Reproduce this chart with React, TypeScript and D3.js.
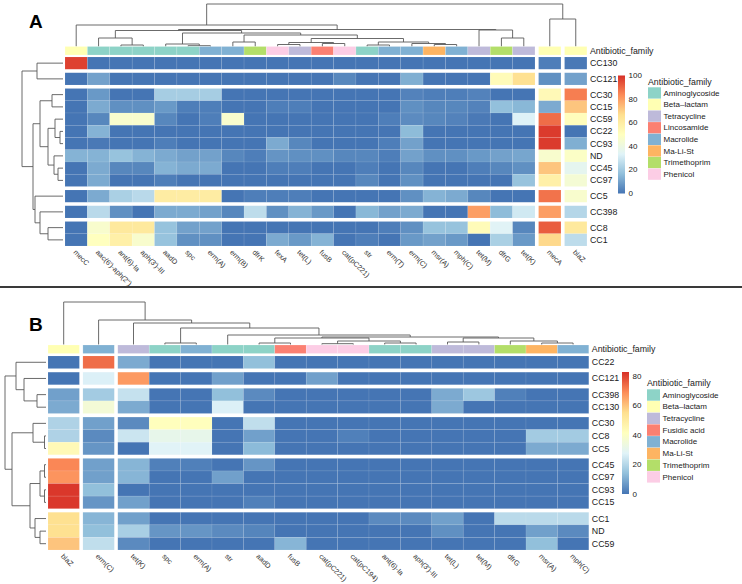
import React from 'react';
import * as d3 from 'd3';

// ---------------- Shared ----------------
const RAMP = ['#4575B4', '#91BFDB', '#E0F3F8', '#FFFFBF', '#FEE090', '#FC8D59', '#D73027'];
const FAMILY_COLORS: Record<string, string> = {
  Aminoglycoside: '#8DD3C7',
  'Beta-lactam': '#FFFFB3',
  Tetracycline: '#BEBADA',
  Lincosamide: '#FB8072',
  'Fusidic acid': '#FB8072',
  Macrolide: '#80B1D3',
  'Ma-Li-St': '#FDB462',
  Trimethoprim: '#B3DE69',
  Phenicol: '#FCCDE5',
};

// ---------------- Panel A data ----------------
const colsA = ["mecC", "aac(6')-aph(2'')", "ant(6)-Ia", "aph(3')-III", "aadD", "spc", "erm(A)", "erm(B)", "dfrK", "fexA", "tet(L)", "fusB", "cat(pC221)", "str", "erm(T)", "erm(C)", "msr(A)", "mph(C)", "tet(M)", "dfrG", "tet(K)", "mecA", "blaZ"];
const familyA = ['Beta-lactam', 'Aminoglycoside', 'Aminoglycoside', 'Aminoglycoside', 'Aminoglycoside', 'Aminoglycoside', 'Macrolide', 'Macrolide', 'Trimethoprim', 'Phenicol', 'Tetracycline', 'Lincosamide', 'Phenicol', 'Aminoglycoside', 'Macrolide', 'Macrolide', 'Ma-Li-St', 'Macrolide', 'Tetracycline', 'Trimethoprim', 'Tetracycline', 'Beta-lactam', 'Beta-lactam'];
const rowsA = ['CC130', 'CC121', 'CC30', 'CC15', 'CC59', 'CC22', 'CC93', 'ND', 'CC45', 'CC97', 'CC5', 'CC398', 'CC8', 'CC1'];
const valuesA = [
  [97, 0, 0, 0, 0, 0, 0, 0, 0, 0, 0, 0, 0, 0, 0, 0, 0, 0, 0, 0, 0, 2, 1],
  [0, 10, 0, 0, 0, 0, 0, 0, 0, 0, 0, 0, 4, 0, 0, 13, 0, 0, 0, 52, 66, 6, 10],
  [0, 8, 0, 0, 21, 21, 21, 0, 0, 0, 0, 0, 0, 0, 0, 3, 2, 2, 3, 0, 0, 53, 86],
  [0, 12, 6, 6, 8, 2, 2, 0, 0, 2, 2, 0, 0, 0, 0, 6, 4, 4, 3, 17, 15, 12, 72],
  [0, 4, 46, 46, 4, 0, 2, 46, 0, 0, 0, 0, 0, 0, 2, 5, 4, 3, 1, 0, 33, 89, 51],
  [0, 14, 0, 0, 0, 0, 0, 0, 0, 0, 0, 0, 0, 0, 0, 16, 0, 0, 0, 0, 0, 98, 0],
  [0, 1, 0, 0, 2, 0, 0, 0, 0, 12, 4, 0, 0, 0, 2, 10, 0, 0, 0, 0, 0, 98, 13],
  [14, 14, 18, 14, 12, 10, 10, 4, 2, 7, 6, 6, 4, 4, 2, 10, 6, 6, 8, 10, 11, 46, 48],
  [0, 12, 4, 4, 14, 12, 12, 0, 0, 2, 2, 0, 0, 2, 0, 4, 0, 0, 2, 4, 6, 72, 36],
  [0, 12, 0, 0, 2, 0, 0, 0, 0, 0, 0, 0, 0, 4, 0, 6, 0, 0, 0, 0, 18, 58, 44],
  [0, 12, 22, 25, 60, 60, 60, 0, 2, 2, 2, 0, 0, 0, 0, 6, 14, 12, 4, 0, 0, 88, 46],
  [0, 25, 6, 0, 12, 12, 10, 4, 26, 6, 14, 8, 0, 15, 10, 12, 0, 0, 80, 16, 30, 80, 24],
  [0, 46, 62, 62, 18, 10, 10, 0, 0, 0, 0, 0, 0, 0, 2, 6, 18, 18, 52, 34, 4, 92, 62],
  [0, 50, 58, 46, 18, 6, 6, 0, 0, 12, 8, 14, 0, 2, 0, 8, 10, 8, 0, 22, 8, 68, 26],
];
const legendFamA = ['Aminoglycoside', 'Beta-lactam', 'Tetracycline', 'Lincosamide', 'Macrolide', 'Ma-Li-St', 'Trimethoprim', 'Phenicol'];
const ticksA = [0, 20, 40, 60, 80, 100];
const maxA = 100;
// dendrograms: [left, right, merge height]
const rowTreeA = [[0, 1, 26], [[[2, 3, 11], [[4, [5, 6, 3], 8], [7, [8, 9, 5], 9], 15], 23], [10, [11, [12, 13, 15], 23], 28], 30], 41];
const colTreeA = [
  [0, [[[1, [2, 3, 1.5], 8.5], [[4, [5, 6, 0.8], 2.5], [[7, 8, 4.5], [[[9, 10, 2], [11, 12, 3], 4], [[13, 14, 1.5], [15, [16, 17, 2], 3], 4.5], 8], 11.5], 13.5], 16], [18, [19, 20, 8.5], 16.5], 17], 21.5],
  [21, 22, 27.5],
  42.5,
];

// ---------------- Panel B data ----------------
const colsB = ['blaZ', 'erm(C)', 'tet(K)', 'spc', 'erm(A)', 'str', 'aadD', 'fusB', 'cat(pC221)', 'cat(pC194)', 'ant(6)-Ia', "aph(3')-III", 'tet(L)', 'tet(M)', 'dfrG', 'msr(A)', 'mph(C)'];
const familyB = ['Beta-lactam', 'Macrolide', 'Tetracycline', 'Aminoglycoside', 'Macrolide', 'Aminoglycoside', 'Aminoglycoside', 'Fusidic acid', 'Phenicol', 'Phenicol', 'Aminoglycoside', 'Aminoglycoside', 'Tetracycline', 'Tetracycline', 'Trimethoprim', 'Ma-Li-St', 'Macrolide'];
const rowsB = ['CC22', 'CC121', 'CC398', 'CC130', 'CC30', 'CC8', 'CC5', 'CC45', 'CC97', 'CC93', 'CC15', 'CC1', 'ND', 'CC59'];
const valuesB = [
  [0, 74, 10, 0, 0, 0, 14, 0, 0, 0, 0, 0, 0, 0, 0, 0, 0],
  [0, 27, 67, 0, 0, 8, 0, 0, 8, 0, 0, 0, 0, 0, 0, 0, 0],
  [8, 17, 23, 0, 0, 14, 4, 0, 0, 0, 0, 0, 10, 16, 2, 0, 0],
  [10, 36, 10, 0, 0, 27, 0, 0, 0, 0, 0, 0, 10, 0, 0, 0, 0],
  [19, 8, 4, 42, 42, 0, 22, 0, 0, 0, 0, 0, 0, 0, 0, 0, 0],
  [19, 4, 24, 31, 31, 0, 8, 0, 0, 2, 0, 0, 0, 0, 0, 17, 17],
  [44, 6, 0, 28, 28, 0, 13, 0, 0, 0, 0, 0, 0, 0, 0, 10, 10],
  [70, 8, 12, 2, 2, 0, 6, 0, 0, 0, 0, 0, 0, 0, 0, 0, 0],
  [68, 8, 12, 0, 0, 8, 0, 0, 0, 0, 0, 0, 0, 0, 0, 0, 0],
  [82, 14, 0, 0, 0, 0, 0, 0, 0, 0, 0, 0, 0, 0, 0, 0, 0],
  [82, 6, 8, 0, 0, 0, 2, 0, 0, 0, 0, 0, 0, 0, 0, 0, 0],
  [55, 12, 8, 0, 0, 0, 0, 0, 0, 0, 4, 4, 8, 0, 21, 21, 21],
  [55, 14, 18, 6, 6, 4, 3, 0, 0, 0, 0, 0, 5, 0, 0, 8, 4],
  [60, 22, 4, 0, 0, 0, 0, 12, 0, 0, 0, 0, 0, 0, 0, 14, 0],
];
const legendFamB = ['Aminoglycoside', 'Beta-lactam', 'Tetracycline', 'Fusidic acid', 'Macrolide', 'Ma-Li-St', 'Trimethoprim', 'Phenicol'];
const ticksB = [0, 20, 40, 60, 80];
const maxB = 83;
const rowTreeB = [[0, [1, [2, 3, 9], 22], 30], [[4, [5, 6, 1.5], 13], [[[7, 8, 1.5], [9, 10, 1.5], 6], [11, [12, 13, 6], 11], 16], 34], 41];
const colTreeB = [0, [1, [2, [[3, 4, 1.5], [5, [[[6, 7, 1.5], [[8, 9, 0.8], [10, 11, 1.5], 3.5], 6.5], [[12, 13, 2.5], [14, [15, 16, 1.5], 3.5], 6.5], 7.5], 9.5], 16.5], 21.5], 24.5], 42.5];

// ---------------- Layouts ----------------
const layoutA = {
  label: 'A', labelX: 29, labelY: 28,
  x0: 65, cw: 22.38, colGap: 3.6, colGapsAfter: [20, 21],
  y0: 57, rh: 12.25, rowGap: 3.5, rowGapsAfter: [0, 1, 9, 10, 11],
  annY: 46.5, annH: 8.5,
  colDendTop: 4, colDendBase: 46.5, colDendMax: 42.5,
  rowDendLeft: 22, rowDendBase: 63, rowDendMax: 41,
  cbX: 618, cbW: 7, cbTop: 75.5, cbBottom: 193.5, cbLabelX: 628.5,
  legX: 648, legTitleY: 82, legTop: 87.3, legStep: 11.6,
};
const layoutB = {
  label: 'B', labelX: 29, labelY: 331,
  x0: 48, cw: 31.4, colGap: 3.5, colGapsAfter: [0, 1],
  y0: 356, rh: 12.57, rowGap: 3.6, rowGapsAfter: [0, 1, 3, 6, 10],
  annY: 345, annH: 8.5,
  colDendTop: 302, colDendBase: 344.5, colDendMax: 42.5,
  rowDendLeft: 5, rowDendBase: 46, rowDendMax: 41,
  cbX: 622, cbW: 7, cbTop: 372, cbBottom: 494, cbLabelX: 632.5,
  legX: 647, legTitleY: 383, legTop: 389.3, legStep: 11.7,
};

const FONT = "'Liberation Sans', Arial, sans-serif";

function treePaths(node: any, leafPos: (i: number) => number, hs: (h: number) => number, orient: 'col' | 'row', out: string[]): { p: number; h: number } {
  if (typeof node === 'number') return { p: leafPos(node), h: hs(0) };
  const [l, r, h] = node;
  const a = treePaths(l, leafPos, hs, orient, out);
  const b = treePaths(r, leafPos, hs, orient, out);
  const hp = hs(h);
  if (orient === 'col') out.push(`M${a.p},${a.h}V${hp}H${b.p}V${b.h}`);
  else out.push(`M${a.h},${a.p}H${hp}V${b.p}H${b.h}`);
  return { p: (a.p + b.p) / 2, h: hp };
}

function Panel({ L, cols, fams, rows, values, max, ticks, legend, rowTree, colTree, id }: any) {
  const color = d3.scaleLinear<string>().domain(RAMP.map((_, i) => (i * max) / 6)).range(RAMP).interpolate(d3.interpolateRgb).clamp(true);
  const colPos = (i: number) => L.x0 + i * L.cw + L.colGap * L.colGapsAfter.filter((g: number) => g < i).length;
  const rowPos = (i: number) => L.y0 + i * L.rh + L.rowGap * L.rowGapsAfter.filter((g: number) => g < i).length;
  const colC = (i: number) => colPos(i) + L.cw / 2;
  const rowC = (i: number) => rowPos(i) + L.rh / 2;
  const right = colPos(cols.length - 1) + L.cw;
  const bottom = rowPos(rows.length - 1) + L.rh;

  const colH = d3.scaleLinear().domain([0, L.colDendMax]).range([L.colDendBase, L.colDendTop]);
  const rowH = d3.scaleLinear().domain([0, L.rowDendMax]).range([L.rowDendBase, L.rowDendLeft]);
  const cPaths: string[] = [];
  treePaths(colTree, colC, colH, 'col', cPaths);
  const rPaths: string[] = [];
  treePaths(rowTree, rowC, rowH, 'row', rPaths);

  const cbY = d3.scaleLinear().domain([0, max]).range([L.cbBottom, L.cbTop]);

  return (
    <g fontFamily={FONT}>
      <text x={L.labelX} y={L.labelY} fontSize={19} fontWeight="bold" fill="#000">{L.label}</text>
      {cPaths.map((d, i) => <path key={'c' + i} d={d} fill="none" stroke="#5a5a5a" strokeWidth={0.9} />)}
      {rPaths.map((d, i) => <path key={'r' + i} d={d} fill="none" stroke="#5a5a5a" strokeWidth={0.9} />)}
      {fams.map((f: string, i: number) => (
        <rect key={'a' + i} x={colPos(i)} y={L.annY} width={L.cw} height={L.annH} fill={FAMILY_COLORS[f]} stroke="rgba(255,255,255,0.35)" strokeWidth={0.5} />
      ))}
      <text x={right + 3} y={L.annY + L.annH / 2} fontSize={8.8} dominantBaseline="central" fill="#1a1a1a">Antibiotic_family</text>
      {values.map((row: number[], r: number) =>
        row.map((v, c) => (
          <rect key={`h${r}-${c}`} x={colPos(c)} y={rowPos(r)} width={L.cw} height={L.rh} fill={color(v)} stroke="rgba(255,255,255,0.14)" strokeWidth={0.6} />
        ))
      )}
      {rows.map((name: string, r: number) => (
        <text key={'rl' + r} x={right + 3} y={rowC(r)} fontSize={8.8} dominantBaseline="central" fill="#1a1a1a">{name}</text>
      ))}
      {cols.map((name: string, c: number) => {
        const x = colC(c) - 1.5;
        const y = bottom + 5;
        return (
          <text key={'cl' + c} x={x} y={y} transform={`rotate(45,${x},${y})`} fontSize={7.2} dominantBaseline="central" fill="#333">{name}</text>
        );
      })}
      <defs>
        <linearGradient id={id} x1="0" y1="1" x2="0" y2="0">
          {RAMP.map((c, i) => <stop key={i} offset={i / 6} stopColor={c} />)}
        </linearGradient>
      </defs>
      <rect x={L.cbX} y={L.cbTop} width={L.cbW} height={L.cbBottom - L.cbTop} fill={`url(#${id})`} />
      {ticks.map((t: number) => (
        <text key={'t' + t} x={L.cbLabelX} y={cbY(t)} fontSize={8} dominantBaseline="central" fill="#1a1a1a">{t}</text>
      ))}
      <text x={L.legX} y={L.legTitleY} fontSize={8.8} dominantBaseline="central" fill="#1a1a1a">Antibiotic_family</text>
      {legend.map((f: string, i: number) => (
        <g key={'lg' + i}>
          <rect x={L.legX} y={L.legTop + i * L.legStep} width={13} height={L.legStep - 0.3} fill={FAMILY_COLORS[f]} />
          <text x={L.legX + 15.5} y={L.legTop + i * L.legStep + L.legStep / 2} fontSize={8} dominantBaseline="central" fill="#1a1a1a">
            {f === 'Beta-lactam' ? 'Beta\u2013lactam' : f}
          </text>
        </g>
      ))}
    </g>
  );
}

export default function App() {
  return (
    <div style={{ position: 'absolute', left: 0, top: 0 }}>
      <svg width={742} height={584} viewBox="0 0 742 584" style={{ display: 'block', background: '#fff' }}>
        <rect width={742} height={584} fill="#fff" />
        <Panel L={layoutA} id="gradA" cols={colsA} fams={familyA} rows={rowsA} values={valuesA} max={maxA} ticks={ticksA} legend={legendFamA} rowTree={rowTreeA} colTree={colTreeA} />
        <line x1={0} x2={742} y1={287} y2={287} stroke="#3a3a3a" strokeWidth={2} />
        <Panel L={layoutB} id="gradB" cols={colsB} fams={familyB} rows={rowsB} values={valuesB} max={maxB} ticks={ticksB} legend={legendFamB} rowTree={rowTreeB} colTree={colTreeB} />
      </svg>
    </div>
  );
}
